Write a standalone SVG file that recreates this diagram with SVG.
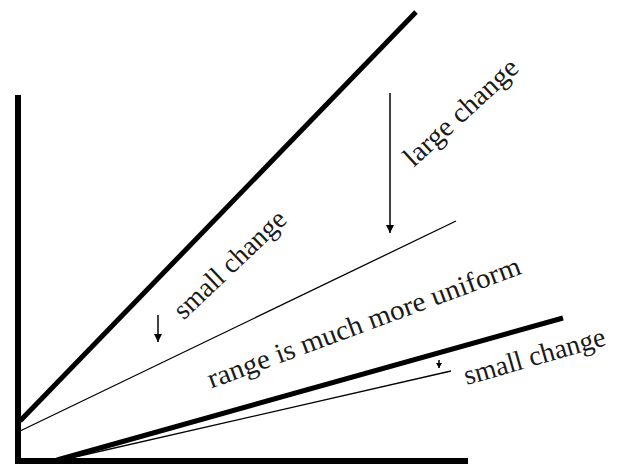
<svg xmlns="http://www.w3.org/2000/svg" width="627" height="468" viewBox="0 0 627 468">
<style>
.axis{stroke:#000;stroke-width:6;fill:none;stroke-linecap:square}
.thick{stroke:#000;stroke-width:5;fill:none}
.thin{stroke:#000;stroke-width:1.3;fill:none}
.arr{stroke:#000;stroke-width:1.5;fill:none}
.lbl{font-family:"Liberation Serif","Times New Roman",serif;font-size:28px;fill:#1a1a1a;text-anchor:middle}
</style>
<defs>
<marker id="ah" markerUnits="userSpaceOnUse" markerWidth="10" markerHeight="10" refX="8" refY="4" orient="auto">
<path d="M0,0 L8,4 L0,8 Z" fill="#000"/>
</marker>
<marker id="ahs" markerUnits="userSpaceOnUse" markerWidth="8" markerHeight="8" refX="5" refY="3" orient="auto">
<path d="M0,0 L5,3 L0,6 Z" fill="#000"/>
</marker>
</defs>
<g id="axes">
<line class="axis" x1="18" y1="98" x2="18" y2="461"/>
<line class="axis" x1="18" y1="461" x2="465" y2="461"/>
</g>
<g id="connectors">
<line id="top-thick" class="thick" x1="20" y1="421" x2="416" y2="12"/>
<line id="top-thin" class="thin" x1="18" y1="432" x2="456" y2="221"/>
<line id="low-thick" class="thick" x1="57" y1="460" x2="563" y2="318"/>
<line id="low-thin" class="thin" x1="62" y1="460" x2="451" y2="371"/>
<line id="arrow-large" class="arr" x1="390" y1="93" x2="390" y2="233" marker-end="url(#ah)"/>
<line id="arrow-small-left" class="arr" x1="158" y1="315" x2="158" y2="342" marker-end="url(#ah)"/>
<line id="arrow-small-right" class="arr" x1="439" y1="360" x2="439" y2="368" marker-end="url(#ahs)"/>
</g>
<g id="label-large">
<text class="lbl" transform="translate(467,119) rotate(-42.5)" textLength="145" lengthAdjust="spacingAndGlyphs">large change</text>
</g>
<g id="label-small-left">
<text class="lbl" transform="translate(236,271) rotate(-43.5)" textLength="144" lengthAdjust="spacingAndGlyphs">small change</text>
</g>
<g id="label-range">
<text class="lbl" transform="translate(367,331) rotate(-20.3)" textLength="332" lengthAdjust="spacingAndGlyphs">range is much more uniform</text>
</g>
<g id="label-small-right">
<text class="lbl" transform="translate(537,365) rotate(-16)" textLength="146" lengthAdjust="spacingAndGlyphs">small change</text>
</g>
</svg>
